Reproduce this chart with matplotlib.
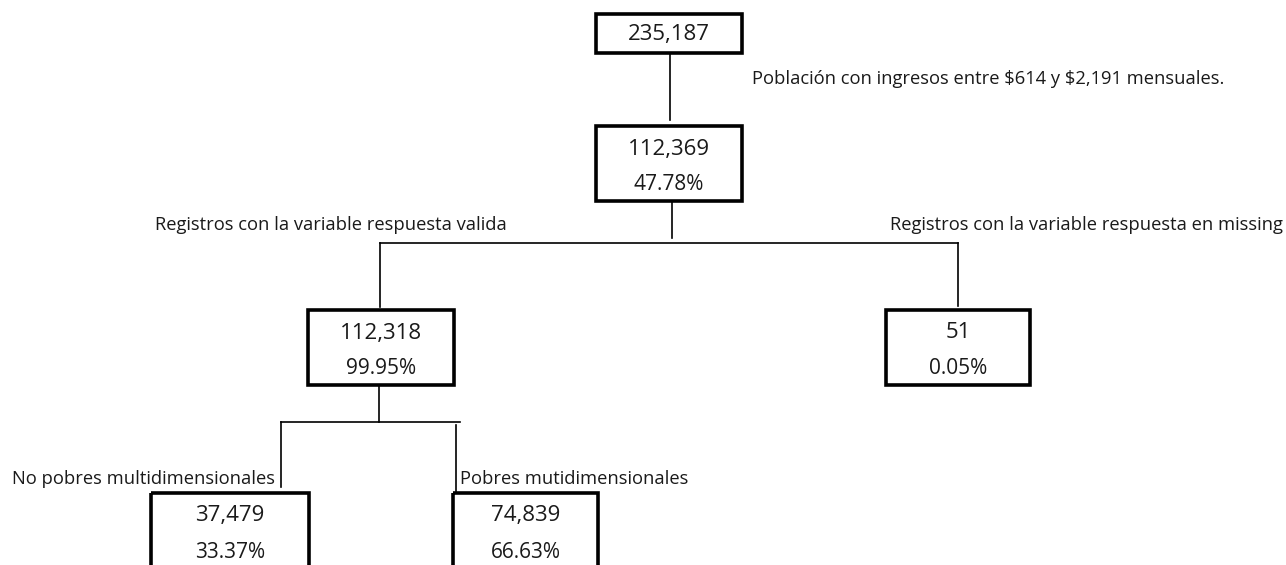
import matplotlib
matplotlib.use("Agg")
import matplotlib.pyplot as plt
from matplotlib.patches import Rectangle

# datos del arbol
nodos = ["total", "ingresos", "validos", "missing", "no_pobres", "pobres"]
cantidades = ["235,187", "112,369", "112,318", "51", "37,479", "74,839"]
porcentajes = ["", "47.78%", "99.95%", "0.05%", "33.37%", "66.63%"]

etiqueta_ingresos = "Población con ingresos entre $614 y $2,191 mensuales."
etiqueta_validos = "Registros con la variable respuesta valida"
etiqueta_missing = "Registros con la variable respuesta en missing"
etiqueta_no_pobres = "No pobres multidimensionales"
etiqueta_pobres = "Pobres mutidimensionales"

# cajas en pixeles: x0, y0, x1, y1
cajas = {
    "total": (596, 14, 742, 53),
    "ingresos": (596, 126, 742, 201),
    "validos": (308, 310, 454, 385),
    "missing": (886, 310, 1030, 385),
    "no_pobres": (151, 493, 309, 580),
    "pobres": (453, 493, 598, 580),
}

plt.rcParams["font.family"] = ["Open Sans", "DejaVu Sans"]
plt.rcParams["text.parse_math"] = False

fig = plt.figure(figsize=(12.86, 5.65), dpi=100)
ax = fig.add_axes([0, 0, 1, 1])
ax.set_xlim(0, 1286)
ax.set_ylim(565, 0)
ax.axis("off")

color = "#1a1a1a"

for nodo, cant, pct in zip(nodos, cantidades, porcentajes):
    x0, y0, x1, y1 = cajas[nodo]
    ax.add_patch(Rectangle((x0, y0), x1 - x0, y1 - y0, fill=False,
                           edgecolor="black", linewidth=2.6))
    cx = (x0 + x1) / 2
    if pct:
        ax.text(cx, y0 + 23, cant, ha="center", va="center", fontsize=16, color=color)
        ax.text(cx, y0 + 59, pct, ha="center", va="center", fontsize=15, color=color)
    else:
        ax.text(cx, (y0 + y1) / 2 + 1, cant, ha="center", va="center", fontsize=16, color=color)

lw = 1.2
# conectores
ax.plot([670, 670], [53, 120], color="black", lw=lw)
ax.plot([672, 672], [201, 238], color="black", lw=lw)
ax.plot([380, 958], [243, 243], color="black", lw=lw)
ax.plot([380, 380], [243, 307], color="black", lw=lw)
ax.plot([958, 958], [243, 306], color="black", lw=lw)
ax.plot([379, 379], [385, 422], color="black", lw=lw)
ax.plot([281, 460], [422, 422], color="black", lw=lw)
ax.plot([281, 281], [422, 487], color="black", lw=lw)
ax.plot([456, 456], [425, 491], color="black", lw=lw)

fs = 13.2
ax.text(752, 79, etiqueta_ingresos, ha="left", va="center", fontsize=fs, color=color)
ax.text(155, 225, etiqueta_validos, ha="left", va="center", fontsize=fs, color=color)
ax.text(1283, 225, etiqueta_missing, ha="right", va="center", fontsize=fs, color=color)
ax.text(12, 479, etiqueta_no_pobres, ha="left", va="center", fontsize=fs, color=color)
ax.text(460, 479, etiqueta_pobres, ha="left", va="center", fontsize=fs, color=color)

fig.savefig("out.png", dpi=100, facecolor="white")
